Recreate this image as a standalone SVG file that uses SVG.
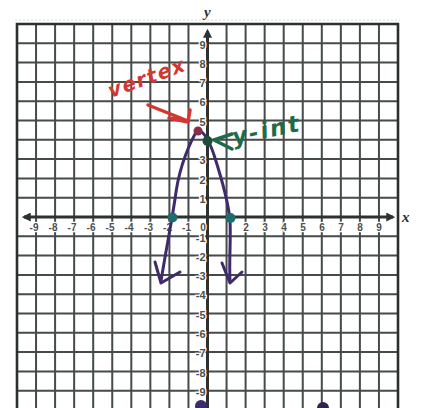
<svg xmlns="http://www.w3.org/2000/svg" width="425" height="408" viewBox="0 0 425 408">
  <defs>
    <style>
      .grid { stroke: #444b4a; stroke-width: 2; fill: none; }
      .border { stroke: #2b2f2f; stroke-width: 2.6; fill: none; }
      .axis { stroke: #2c3231; stroke-width: 3; fill: none; }
      .lbl { font-family: "Liberation Sans", Arial, sans-serif; font-size: 10px; font-weight: bold; fill: #4a4f4f; stroke: #ffffff; stroke-width: 2.5px; paint-order: stroke; }
      .ylbl { text-anchor: end; font-size: 11px; }
      .xlbl { text-anchor: middle; }
      .axname { font-family: "Liberation Serif", "Times New Roman", serif; font-style: italic; font-weight: bold; font-size: 15px; fill: #2b2f2f; }
      .curve { stroke: #3f2a6b; stroke-width: 3; fill: none; stroke-linecap: round; stroke-linejoin: round; }
      .red { stroke: #d4372f; stroke-width: 3.5; fill: none; stroke-linecap: round; stroke-linejoin: round; }
      .green { stroke: #1f6a4a; stroke-width: 3.5; fill: none; stroke-linecap: round; stroke-linejoin: round; }
      .hand { font-family: "DejaVu Sans", "Liberation Sans", sans-serif; font-style: italic; font-weight: bold; }
    </style>
    <marker id="axhead" viewBox="0 0 8 8" refX="6" refY="4" markerWidth="3" markerHeight="3" orient="auto-start-reverse">
      <path d="M0,0 L8,4 L0,8 z" fill="#2c3231"/>
    </marker>
  </defs>

  <rect x="0" y="0" width="425" height="408" fill="#ffffff"/>
  <line x1="15" y1="20" x2="400" y2="20" stroke="#e6e6e6" stroke-width="1.5" stroke-dasharray="2 2"/>

  <g id="grid">
    <path class="grid" d="M36.05,24V410 M55.1,24V410 M74.15,24V410 M93.2,24V410 M112.25,24V410 M131.3,24V410 M150.35,24V410 M169.4,24V410 M188.45,24V410 M226.55,24V410 M245.6,24V410 M264.65,24V410 M283.7,24V410 M302.75,24V410 M321.8,24V410 M340.85,24V410 M359.9,24V410 M378.95,24V410
      M17,43.3H398 M17,62.6H398 M17,81.9H398 M17,101.2H398 M17,120.5H398 M17,139.8H398 M17,159.1H398 M17,178.4H398 M17,197.7H398 M17,236.3H398 M17,255.6H398 M17,274.9H398 M17,294.2H398 M17,313.5H398 M17,332.8H398 M17,352.1H398 M17,371.4H398 M17,390.7H398"/>
    <path class="border" d="M17,412V24H398V412"/>
  </g>

  <g id="axes">
    <line class="axis" x1="24" y1="217" x2="393" y2="217" marker-start="url(#axhead)" marker-end="url(#axhead)"/>
    <line class="axis" x1="207.5" y1="412" x2="207.5" y2="31" marker-end="url(#axhead)"/>
    <text class="axname" x="402" y="222">x</text>
    <text class="axname" x="204" y="17">y</text>
  </g>

  <g id="y-labels" class="lbl ylbl">
    <text x="205.5" y="48.5">9</text>
    <text x="205.5" y="67.8">8</text>
    <text x="205.5" y="87.1">7</text>
    <text x="205.5" y="106.4">6</text>
    <text x="205.5" y="125.7">5</text>
    <text x="205.5" y="164.3">3</text>
    <text x="205.5" y="183.6">2</text>
    <text x="205.5" y="202.9">1</text>
    <text x="205.5" y="241.5">-1</text>
    <text x="205.5" y="260.8">-2</text>
    <text x="205.5" y="280.1">-3</text>
    <text x="205.5" y="299.4">-4</text>
    <text x="205.5" y="318.7">-5</text>
    <text x="205.5" y="338">-6</text>
    <text x="205.5" y="357.3">-7</text>
    <text x="205.5" y="376.6">-8</text>
    <text x="205.5" y="395.9">-9</text>
  </g>

  <g id="x-labels" class="lbl xlbl">
    <text x="34" y="230.5">-9</text>
    <text x="53" y="230.5">-8</text>
    <text x="72" y="230.5">-7</text>
    <text x="91" y="230.5">-6</text>
    <text x="110" y="230.5">-5</text>
    <text x="129" y="230.5">-4</text>
    <text x="148.5" y="230.5">-3</text>
    <text x="167.5" y="230.5">-2</text>
    <text x="186.5" y="230.5">-1</text>
    <text x="203" y="230.5">0</text>
    <text x="246" y="230.5">2</text>
    <text x="265" y="230.5">3</text>
    <text x="284" y="230.5">4</text>
    <text x="303" y="230.5">5</text>
    <text x="322" y="230.5">6</text>
    <text x="341" y="230.5">7</text>
    <text x="360" y="230.5">8</text>
    <text x="379" y="230.5">9</text>
  </g>

  <g id="connectors">
    <path id="left-branch" class="curve" d="M198,129 C190,142 180,165 176,192 C173,215 166,250 161,281"/>
    <path id="right-branch" class="curve" d="M199,130 C205,133 210,142 215,158 C222,180 228,200 230,220 C231,240 229,260 230,281"/>
    <path class="curve" d="M155,262 L161,283 L180,272"/>
    <path class="curve" d="M222,263 L230,283 L242,272"/>
    <path id="vertex-arrow" class="red" d="M148,105 L188,121 M190,110 L188,122 L169,118"/>
    <path id="yint-arrow" class="green" d="M232,134 L214,140 L232,149"/>
  </g>

  <g id="vertex-label">
    <text class="hand" x="111" y="98" font-size="20" letter-spacing="1.5" fill="#d4372f" transform="rotate(-20 111 98)">vertex</text>
  </g>
  <g id="yint-label">
    <text class="hand" x="234" y="145" font-size="23" letter-spacing="2" fill="#1f6a4a" transform="rotate(-12 234 145)">y-int</text>
  </g>

  <g id="vertex-point"><circle cx="198" cy="131" r="4.5" fill="#8a2d48"/></g>
  <g id="yint-point"><circle cx="207.5" cy="141" r="5" fill="#1f4d3a"/></g>
  <g id="xint-left"><circle cx="172.5" cy="217.5" r="5" fill="#1f6b6e"/></g>
  <g id="xint-right"><circle cx="230.5" cy="218" r="5" fill="#1f6b6e"/></g>
  <g id="bottom-dot-1"><circle cx="201" cy="406" r="6" fill="#3f2a6b"/></g>
  <g id="bottom-dot-2"><circle cx="323" cy="408" r="6" fill="#2f2450"/></g>
</svg>
